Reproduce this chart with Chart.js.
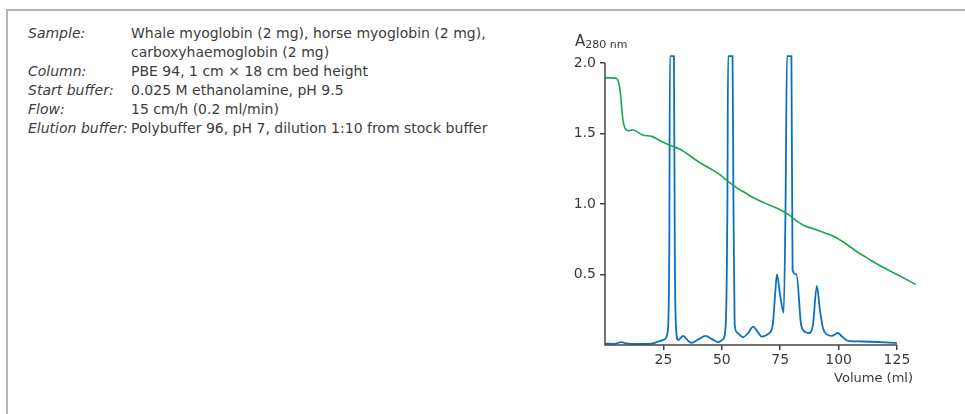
<!DOCTYPE html>
<html>
<head>
<meta charset="utf-8">
<script src="https://cdn.jsdelivr.net/npm/chart.js@4.4.1/dist/chart.umd.min.js"></script>
<style>
  html, body { margin: 0; padding: 0; background: #fff; }
  body { width: 965px; height: 414px; position: relative; overflow: hidden; font-family: "DejaVu Sans", sans-serif; }
  #frame { position: absolute; left: 6px; top: 9px; width: 970px; height: 420px; border-left: 2px solid #b4b4b4; border-top: 2px solid #b4b4b4; }
  #info { position: absolute; left: 28px; top: 24px; font-size: 14px; color: #3c3c3c; line-height: 19px; }
  #info .row { display: flex; }
  #info .k { width: 103px; font-style: italic; flex: none; white-space: nowrap; }
  #chartBox { position: absolute; left: 0; top: 0; width: 965px; height: 414px; }
</style>
</head>
<body>
<div id="frame"></div>
<div id="info">
  <div class="row"><span class="k">Sample:</span><span>Whale myoglobin (2 mg), horse myoglobin (2 mg),<br>carboxyhaemoglobin (2 mg)</span></div>
  <div class="row"><span class="k">Column:</span><span>PBE 94, 1 cm × 18 cm bed height</span></div>
  <div class="row"><span class="k">Start buffer:</span><span>0.025 M ethanolamine, pH 9.5</span></div>
  <div class="row"><span class="k">Flow:</span><span>15 cm/h (0.2 ml/min)</span></div>
  <div class="row"><span class="k">Elution buffer:</span><span>Polybuffer 96, pH 7, dilution 1:10 from stock buffer</span></div>
</div>
<div id="chartBox"><canvas id="chart"></canvas></div>
<script>
// tick labels
const xTicks = [25, 50, 75, 100, 125];
const yTicks = [0.5, 1.0, 1.5, 2.0];

// A280 trace (blue): volume (ml) and absorbance
const absVolume = [0, 4, 7, 9, 15, 20, 23, 25.5, 26.8, 27.5, 27.8, 29.5, 29.9, 30.5, 31.3, 33.5, 35, 37, 40, 43, 46, 48.5, 50.5, 51.7, 52.4, 52.7, 54.6, 55, 55.5, 56.5, 59, 61.5, 63.4, 65.5, 67, 70, 71.8, 72.8, 73.6, 75, 76.5, 77.3, 77.9, 79.8, 80.3, 82, 84, 86, 87.5, 89, 90.7, 92, 93.3, 95, 97, 99.7, 101.5, 104, 110, 125];
const absValue = [0.01, 0.008, 0.02, 0.012, 0.008, 0.01, 0.025, 0.04, 0.09, 0.6, 2.05, 2.05, 0.6, 0.1, 0.035, 0.065, 0.04, 0.015, 0.04, 0.065, 0.04, 0.02, 0.04, 0.15, 1.0, 2.05, 2.05, 1.0, 0.15, 0.09, 0.055, 0.09, 0.13, 0.09, 0.06, 0.08, 0.14, 0.35, 0.5, 0.35, 0.23, 1.0, 2.05, 2.05, 0.53, 0.5, 0.14, 0.09, 0.085, 0.14, 0.42, 0.25, 0.12, 0.075, 0.065, 0.085, 0.06, 0.03, 0.025, 0.015];

// pH gradient trace (green), same scale as drawn
const phVolume = [0, 3, 5, 6.5, 7.5, 8.5, 10, 12, 14, 16, 20, 24, 28, 32, 40, 49, 52, 56, 60, 63, 68, 75, 79, 82, 85, 90, 95, 98, 103, 108, 112, 118, 125, 133];
const phValue = [1.895, 1.895, 1.89, 1.8, 1.62, 1.54, 1.52, 1.525, 1.51, 1.49, 1.48, 1.445, 1.415, 1.39, 1.3, 1.21, 1.17, 1.12, 1.08, 1.05, 1.01, 0.96, 0.92, 0.88, 0.85, 0.82, 0.79, 0.77, 0.72, 0.66, 0.62, 0.56, 0.5, 0.43];

const AXIS = "#444";
const TEXT = "#3a3a3a";
const FONT = "'DejaVu Sans', sans-serif";

const toPoints = (xs, ys) => xs.map((x, i) => ({ x: x, y: ys[i] }));

// axis lines that stop at the last tick, plus the horizontal A280 label
const axisPlugin = {
    id: "axisLines",
    afterDraw(chart) {
        const { ctx, scales: { x, y } } = chart;
        const x0 = x.getPixelForValue(0);
        const y0 = y.getPixelForValue(0);
        ctx.save();
        ctx.strokeStyle = AXIS;
        ctx.lineWidth = 1.5;
        ctx.beginPath();
        ctx.moveTo(x0, y.getPixelForValue(yTicks[yTicks.length - 1]));
        ctx.lineTo(x0, y0);
        ctx.lineTo(x.getPixelForValue(xTicks[xTicks.length - 1]), y0);
        ctx.stroke();

        ctx.fillStyle = TEXT;
        ctx.textBaseline = "alphabetic";
        ctx.textAlign = "left";
        const top = y.getPixelForValue(yTicks[yTicks.length - 1]);
        ctx.font = "15px " + FONT;
        ctx.fillText("A", x0 - 30, top - 17);
        const w = ctx.measureText("A").width;
        ctx.font = "11px " + FONT;
        ctx.fillText("280 nm", x0 - 30 + w, top - 15);

        ctx.textAlign = "right";
        ctx.font = "13px " + FONT;
        ctx.fillText("Volume (ml)", x.getPixelForValue(xTicks[xTicks.length - 1]) + 16, y0 + 37);
        ctx.restore();
    },
};

new Chart(document.getElementById("chart"), {
    type: "line",
    data: {
        datasets: [
            {
                label: "pH",
                data: toPoints(phVolume, phValue),
                borderColor: "#1aa650",
                borderWidth: 1.6,
                pointRadius: 0,
                tension: 0.4,
                cubicInterpolationMode: "monotone",
            },
            {
                label: "A280",
                data: toPoints(absVolume, absValue),
                borderColor: "#0a70c0",
                borderWidth: 1.8,
                pointRadius: 0,
                cubicInterpolationMode: "monotone",
            },
        ],
    },
    options: {
        responsive: true,
        maintainAspectRatio: false,
        animation: false,
        layout: { padding: { left: 0, top: 49, right: 47, bottom: 0 } },
        plugins: { legend: { display: false }, tooltip: { enabled: false } },
        scales: {
            x: {
                type: "linear",
                min: 0,
                max: 134,
                afterBuildTicks: (s) => { s.ticks = xTicks.map((v) => ({ value: v })); },
                afterFit: (s) => { s.height = 69; },
                border: { display: false },
                grid: { drawOnChartArea: false, color: AXIS, lineWidth: 1.5, tickLength: 5 },
                ticks: { color: TEXT, font: { size: 14, family: FONT }, padding: 2, maxRotation: 0 },
            },
            y: {
                min: 0,
                max: 2.1,
                afterBuildTicks: (s) => { s.ticks = yTicks.map((v) => ({ value: v })); },
                afterFit: (s) => { s.width = 605; },
                border: { display: false },
                grid: { drawOnChartArea: false, color: AXIS, lineWidth: 1.5, tickLength: 5 },
                ticks: {
                    color: TEXT,
                    font: { size: 14, family: FONT },
                    padding: 4,
                    callback: (v) => v.toFixed(1),
                },
            },
        },
    },
    plugins: [axisPlugin],
});
</script>
</body>
</html>
